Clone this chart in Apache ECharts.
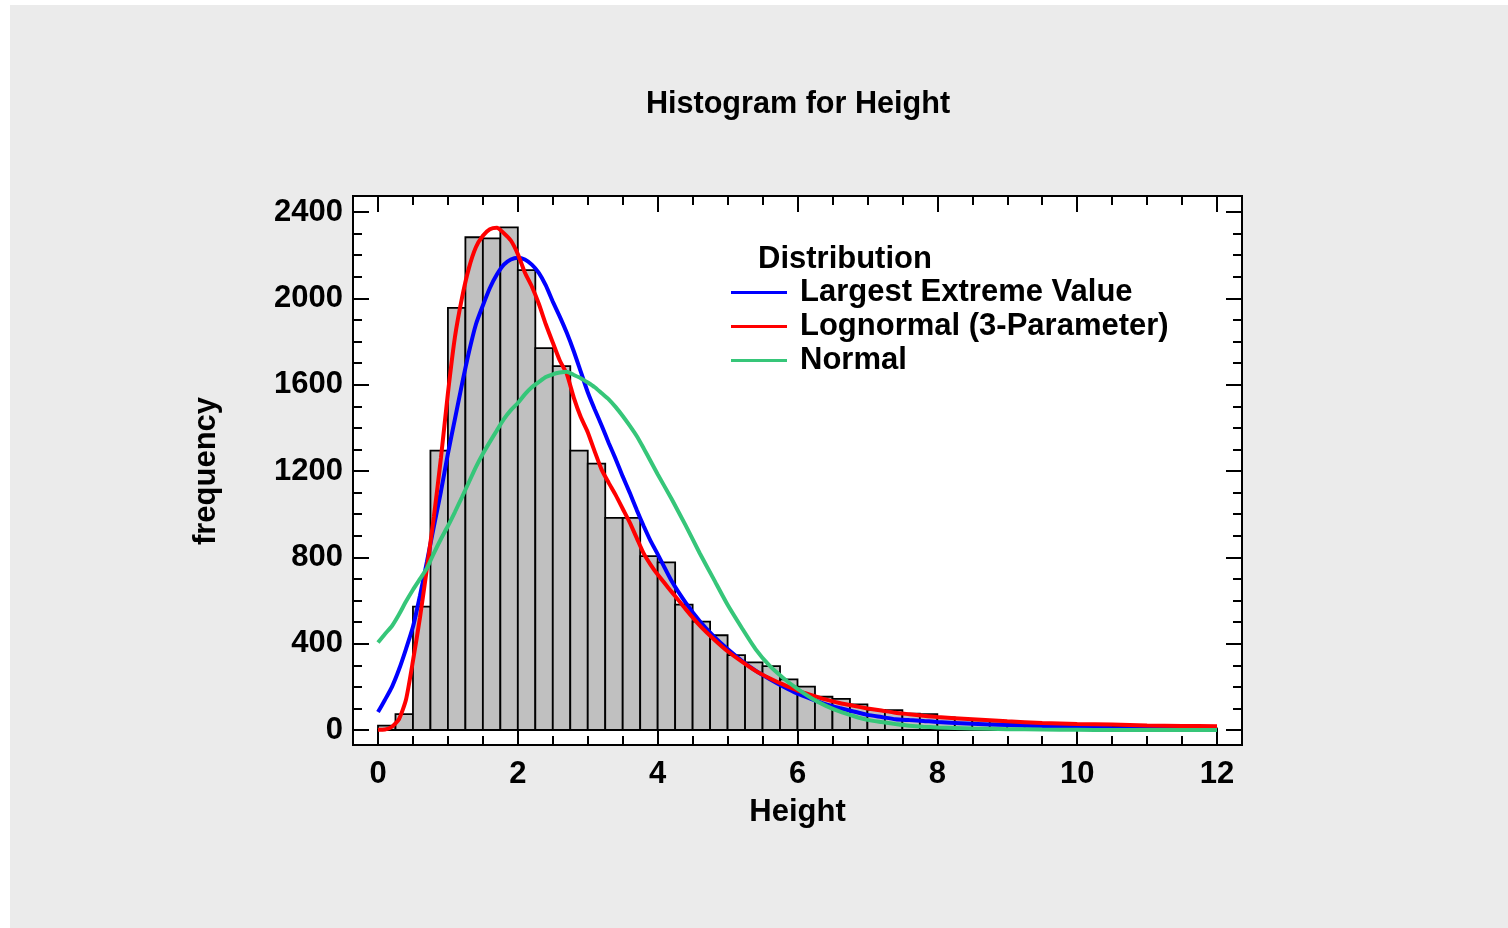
<!DOCTYPE html>
<html>
<head>
<meta charset="utf-8">
<title>Histogram for Height</title>
<script src="https://cdn.jsdelivr.net/npm/echarts@6/dist/echarts.min.js"></script>
<style>
  html, body { margin: 0; padding: 0; background: #ffffff; }
  #chart { position: absolute; left: 10px; top: 5px; width: 1498px; height: 923px; }
</style>
</head>
<body>
<div id="chart"></div>
<script>
// histogram bins (width 0.25)
var binLow = [0, 0.25, 0.5, 0.75, 1, 1.25, 1.5, 1.75, 2, 2.25, 2.5, 2.75,
    3, 3.25, 3.5, 3.75, 4, 4.25, 4.5, 4.75, 5, 5.25, 5.5, 5.75,
    6, 6.25, 6.5, 6.75, 7, 7.25, 7.5, 7.75, 8, 8.25, 8.5, 8.75,
    9, 9.25, 9.5, 9.75, 10, 10.25, 10.5, 10.75, 11, 11.25, 11.5, 11.75];
var binWidth = 0.25;
var counts = [20, 74, 572, 1294, 1956, 2283, 2278, 2329, 2131, 1769, 1686, 1294,
    1234, 983, 983, 806, 777, 581, 502, 439, 347, 313, 296, 235,
    201, 154, 144, 119, 93, 92, 76, 73, 58, 52, 45, 40,
    33, 30, 26, 24, 20, 18, 15, 13, 11, 10, 8, 7];

// fitted curves
var curveX = [0, 0.1, 0.2, 0.3, 0.4, 0.5, 0.6, 0.7, 0.8, 0.9,
    1, 1.1, 1.2, 1.3, 1.4, 1.5, 1.6, 1.7, 1.8, 1.9,
    2, 2.1, 2.2, 2.3, 2.4, 2.5, 2.6, 2.7, 2.8, 2.9,
    3, 3.1, 3.2, 3.3, 3.4, 3.5, 3.6, 3.7, 3.8, 3.9,
    4, 4.2, 4.4, 4.6, 4.8, 5, 5.2, 5.4, 5.6, 5.8,
    6, 6.2, 6.4, 6.6, 6.8, 7, 7.2, 7.4, 7.6, 7.8,
    8, 8.5, 9, 9.5, 10, 10.5, 11, 11.5, 12];
var lev = [83, 140, 200, 280, 375, 478, 622, 780, 945, 1105,
    1280, 1440, 1600, 1750, 1879, 1967, 2048, 2110, 2156, 2180,
    2188, 2180, 2156, 2118, 2060, 1985, 1915, 1840, 1755, 1660,
    1565, 1485, 1410, 1330, 1255, 1175, 1100, 1020, 945, 875,
    815, 690, 590, 505, 435, 375, 322, 275, 236, 200,
    168, 143, 120, 102, 86, 70, 60, 50, 46, 42,
    37, 29, 23, 17, 12, 8, 6, 4, 3];
var lognormal = [1, 2, 15, 50, 140, 320, 520, 750, 990, 1260,
    1560, 1820, 2000, 2140, 2237, 2290, 2320, 2327, 2302, 2268,
    2205, 2120, 2055, 1975, 1880, 1795, 1712, 1650, 1540, 1450,
    1380, 1290, 1205, 1145, 1088, 1025, 962, 890, 818, 765,
    720, 640, 560, 485, 422, 365, 318, 274, 240, 210,
    183, 162, 142, 125, 112, 100, 90, 80, 73, 66,
    60, 50, 40, 33, 28, 25, 21, 19, 17];
var normal = [405, 445, 482, 535, 595, 650, 700, 750, 820, 885,
    945, 1010, 1078, 1148, 1218, 1280, 1335, 1388, 1440, 1482,
    1515, 1555, 1588, 1612, 1635, 1648, 1656, 1660, 1645, 1630,
    1610, 1588, 1560, 1532, 1496, 1455, 1410, 1362, 1305, 1245,
    1185, 1070, 948, 820, 700, 580, 475, 375, 298, 240,
    190, 147, 113, 86, 65, 47, 37, 28, 20, 15,
    12, 7, 4, 2, 1, 0, 0, 0, 0];

var xTicks = [0, 2, 4, 6, 8, 10, 12];
var yTicks = [0, 400, 800, 1200, 1600, 2000, 2400];

var FONT = '"Liberation Sans", Arial, sans-serif';
var FS = 31;

function pairs(xs, ys) {
    var out = [];
    for (var i = 0; i < xs.length; i++) { out.push([xs[i], ys[i]]); }
    return out;
}
var barData = [];
for (var i = 0; i < binLow.length; i++) {
    barData.push([binLow[i], binLow[i] + binWidth, counts[i]]);
}

var chart = echarts.init(document.getElementById('chart'));

var tickCommon = {
    axisLine: { show: false, onZero: false },
    axisTick: { show: true, inside: true, length: 16, lineStyle: { color: '#000', width: 2 } },
    minorTick: { show: true, splitNumber: 4, length: 9, lineStyle: { color: '#000', width: 2 } },
    splitLine: { show: false },
    minorSplitLine: { show: false }
};

var option = {
    backgroundColor: '#ebebeb',
    animation: false,
    title: {
        text: 'Histogram for Height',
        left: 788,
        top: 84,
        padding: 0,
        textAlign: 'center',
        textStyle: { fontFamily: FONT, fontWeight: 'bold', fontSize: 30.6, color: '#000' }
    },
    graphic: [{
        type: 'text',
        left: 748,
        top: 239,
        style: { text: 'Distribution', font: 'bold ' + FS + 'px ' + FONT, fill: '#000' }
    }],
    legend: {
        orient: 'vertical',
        left: 721,
        top: 272,
        padding: 0,
        icon: 'rect',
        itemWidth: 56,
        itemHeight: 3,
        itemGap: 3,
        selectedMode: false,
        textStyle: { fontFamily: FONT, fontWeight: 'bold', fontSize: FS, color: '#000', lineHeight: 31, padding: [0, 0, 0, 8] },
        data: ['Largest Extreme Value', 'Lognormal (3-Parameter)', 'Normal']
    },
    grid: [
        { left: 343, top: 191, width: 889, height: 549, show: true, backgroundColor: '#fff', borderColor: '#000', borderWidth: 2 },
        { left: 368, top: 207, width: 839, height: 518 }
    ],
    xAxis: [
        { gridIndex: 0, type: 'value', show: false, min: 0, max: 1 },
        Object.assign({
            gridIndex: 1, type: 'value', position: 'bottom', offset: 15,
            min: 0, max: 12, interval: 2,
            name: 'Height', nameLocation: 'middle', nameGap: 52,
            nameTextStyle: { fontFamily: FONT, fontWeight: 'bold', fontSize: FS, color: '#000' },
            axisLabel: { show: true, margin: 14, fontFamily: FONT, fontWeight: 'bold', fontSize: FS, color: '#000',
                formatter: function (v) { return xTicks.indexOf(v) >= 0 ? String(v) : ''; } }
        }, tickCommon),
        Object.assign({
            gridIndex: 1, type: 'value', position: 'top', offset: 16,
            min: 0, max: 12, interval: 2, axisLabel: { show: false }
        }, tickCommon)
    ],
    yAxis: [
        { gridIndex: 0, type: 'value', show: false, min: 0, max: 1 },
        Object.assign({
            gridIndex: 1, type: 'value', position: 'left', offset: 25,
            min: 0, max: 2400, interval: 400,
            name: 'frequency', nameLocation: 'middle', nameGap: 131,
            nameTextStyle: { fontFamily: FONT, fontWeight: 'bold', fontSize: FS, color: '#000' },
            axisLabel: { show: true, margin: 10, padding: [5, 0, 0, 0], fontFamily: FONT, fontWeight: 'bold', fontSize: FS, color: '#000',
                formatter: function (v) { return yTicks.indexOf(v) >= 0 ? String(v) : ''; } }
        }, tickCommon),
        Object.assign({
            gridIndex: 1, type: 'value', position: 'right', offset: 25,
            min: 0, max: 2400, interval: 400, axisLabel: { show: false }
        }, tickCommon)
    ],
    series: [
        {
            name: 'Height',
            type: 'custom',
            xAxisIndex: 1,
            yAxisIndex: 1,
            clip: false,
            encode: { x: [0, 1], y: 2 },
            data: barData,
            renderItem: function (params, api) {
                var p0 = api.coord([api.value(0), api.value(2)]);
                var p1 = api.coord([api.value(1), 0]);
                return {
                    type: 'rect',
                    shape: { x: p0[0], y: p0[1], width: p1[0] - p0[0], height: p1[1] - p0[1] },
                    style: { fill: '#c0c0c0', stroke: '#000', lineWidth: 1.8 }
                };
            }
        },
        {
            name: 'Largest Extreme Value', type: 'line', xAxisIndex: 1, yAxisIndex: 1,
            data: pairs(curveX, lev), symbol: 'none', smooth: 0.2, clip: false,
            lineStyle: { color: '#0000ff', width: 4 }, itemStyle: { color: '#0000ff' }
        },
        {
            name: 'Lognormal (3-Parameter)', type: 'line', xAxisIndex: 1, yAxisIndex: 1,
            data: pairs(curveX, lognormal), symbol: 'none', smooth: 0.2, clip: false,
            lineStyle: { color: '#ff0000', width: 4 }, itemStyle: { color: '#ff0000' }
        },
        {
            name: 'Normal', type: 'line', xAxisIndex: 1, yAxisIndex: 1,
            data: pairs(curveX, normal), symbol: 'none', smooth: 0.2, clip: false,
            lineStyle: { color: '#36c679', width: 4 }, itemStyle: { color: '#36c679' }
        }
    ]
};
chart.setOption(option);
</script>
</body>
</html>
